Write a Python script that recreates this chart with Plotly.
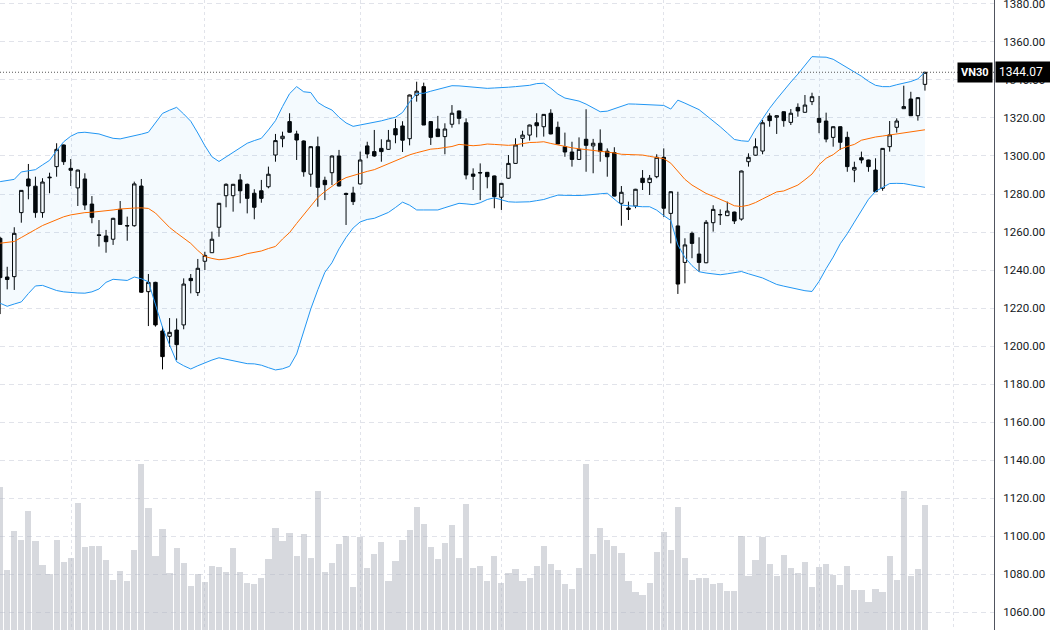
import plotly.graph_objects as go

# ---- data ----
open_ = [1256.7, 1236.3, 1236.5, 1270.2, 1287.9, 1284.1, 1270.2, 1288.5, 1294.4, 1305.8,
         1293.5, 1283.2, 1287.9, 1274.7, 1258.5, 1257.9, 1256.2, 1271.9, 1263.4, 1263.3,
         1284.2, 1228.6, 1233.5, 1207.9, 1205.1, 1208.4, 1211.1, 1235.6, 1228.1, 1244.6,
         1249.1, 1262.5, 1279.1, 1279.1, 1287.4, 1285.1, 1280.4, 1281.7, 1283.8, 1300.5,
         1309.1, 1318.1, 1311.6, 1307.9, 1290.4, 1304.9, 1287.2, 1291.2, 1300.0, 1280.3,
         1280.5, 1285.3, 1305.3, 1302.3, 1304.0, 1303.5, 1314.4, 1315.8, 1309.1, 1332.0,
         1336.5, 1318.1, 1314.2, 1310.2, 1316.7, 1323.7, 1317.5, 1290.5, 1291.3, 1291.4,
         1289.5, 1278.3, 1288.3, 1296.1, 1309.3, 1311.0, 1317.5, 1315.4, 1322.5, 1315.1,
         1304.9, 1302.1, 1298.2, 1308.8, 1305.3, 1306.7, 1302.5, 1301.8, 1275.1, 1272.6,
         1273.7, 1288.3, 1286.0, 1289.1, 1299.3, 1269.8, 1263.2, 1244.0, 1259.3, 1248.4,
         1243.8, 1264.9, 1269.0, 1268.6, 1270.5, 1266.8, 1297.0, 1300.4, 1302.6, 1321.1,
         1320.4, 1323.3, 1317.7, 1325.6, 1323.0, 1328.6, 1319.8, 1318.4, 1309.8, 1315.4,
         1309.8, 1292.6, 1299.1, 1297.9, 1292.6, 1283.0, 1304.9, 1315.1, 1324.9, 1330.0,
         1321.2, 1337.7]
high = [1257.5, 1241.7, 1262.5, 1282.0, 1295.8, 1289.1, 1288.3, 1291.2, 1306.7, 1306.0,
        1298.4, 1292.8, 1290.9, 1278.9, 1266.3, 1261.1, 1267.5, 1276.3, 1268.1, 1286.5,
        1287.9, 1237.9, 1233.8, 1210.2, 1214.7, 1214.5, 1235.6, 1237.9, 1245.8, 1249.6,
        1260.2, 1275.3, 1285.6, 1285.3, 1290.5, 1285.5, 1282.5, 1287.4, 1294.4, 1311.6,
        1312.8, 1322.5, 1313.3, 1308.2, 1305.2, 1310.2, 1289.1, 1300.3, 1303.2, 1280.7,
        1283.8, 1302.3, 1307.5, 1313.7, 1308.8, 1313.7, 1319.5, 1318.3, 1332.3, 1339.1,
        1338.6, 1318.4, 1321.1, 1317.2, 1326.8, 1323.9, 1319.8, 1293.5, 1296.1, 1291.6,
        1289.7, 1285.8, 1300.5, 1309.3, 1313.3, 1316.5, 1322.5, 1322.1, 1324.6, 1318.1,
        1312.3, 1307.5, 1309.8, 1324.6, 1309.0, 1314.0, 1304.0, 1304.6, 1284.2, 1276.0,
        1282.7, 1292.6, 1290.0, 1300.9, 1304.0, 1281.4, 1281.2, 1256.7, 1260.2, 1257.2,
        1266.3, 1274.1, 1271.9, 1276.0, 1270.7, 1292.3, 1301.4, 1309.3, 1318.9, 1322.5,
        1321.4, 1323.5, 1324.7, 1327.7, 1332.1, 1333.3, 1331.6, 1322.8, 1315.6, 1315.6,
        1312.8, 1297.0, 1302.3, 1298.1, 1298.8, 1304.2, 1318.4, 1319.8, 1337.0, 1333.8,
        1330.9, 1344.2]
low = [1216.8, 1229.8, 1229.5, 1264.9, 1277.2, 1267.5, 1267.5, 1280.4, 1289.1, 1295.3,
       1284.2, 1273.7, 1271.6, 1264.6, 1252.3, 1249.1, 1253.2, 1264.0, 1255.4, 1262.8,
       1228.0, 1210.5, 1210.2, 1187.7, 1199.6, 1192.6, 1208.8, 1227.7, 1226.3, 1240.0,
       1249.0, 1257.5, 1273.0, 1270.7, 1275.1, 1269.8, 1266.7, 1275.4, 1283.0, 1297.0,
       1304.6, 1312.3, 1297.9, 1289.1, 1283.8, 1273.3, 1276.8, 1284.7, 1284.0, 1263.7,
       1274.2, 1285.0, 1298.8, 1299.6, 1297.0, 1303.2, 1306.7, 1302.1, 1305.6, 1328.6,
       1316.3, 1305.8, 1310.2, 1300.9, 1314.9, 1316.7, 1287.7, 1282.1, 1276.8, 1283.0,
       1272.5, 1271.6, 1288.0, 1296.0, 1304.9, 1308.1, 1309.8, 1310.2, 1311.4, 1306.3,
       1299.6, 1294.4, 1298.0, 1291.7, 1290.9, 1297.0, 1289.1, 1278.7, 1263.3, 1266.3,
       1272.5, 1282.1, 1279.5, 1288.3, 1268.0, 1254.0, 1227.4, 1233.0, 1246.2, 1239.1,
       1243.6, 1260.2, 1263.7, 1268.4, 1264.2, 1266.0, 1294.4, 1300.2, 1300.9, 1315.4,
       1311.6, 1315.4, 1316.3, 1320.7, 1322.8, 1326.8, 1312.0, 1307.2, 1304.9, 1303.2,
       1291.7, 1286.2, 1296.1, 1291.7, 1281.2, 1281.7, 1302.3, 1312.3, 1324.7, 1321.0,
       1318.6, 1334.4]
close = [1236.0, 1235.0, 1259.3, 1281.9, 1284.2, 1270.2, 1286.3, 1288.8, 1303.5, 1297.0,
         1292.5, 1292.6, 1274.2, 1267.7, 1258.2, 1254.9, 1267.2, 1264.0, 1263.2, 1285.3,
         1228.3, 1233.5, 1211.1, 1194.4, 1207.2, 1200.7, 1232.6, 1234.4, 1240.9, 1247.7,
         1256.2, 1275.1, 1285.1, 1285.1, 1281.7, 1277.7, 1273.0, 1277.7, 1290.4, 1308.1,
         1310.4, 1312.5, 1308.4, 1291.7, 1304.9, 1283.5, 1284.9, 1300.0, 1284.2, 1279.8,
         1276.0, 1297.9, 1301.1, 1300.0, 1302.3, 1308.3, 1311.1, 1308.3, 1332.1, 1334.1,
         1316.3, 1309.8, 1310.2, 1314.2, 1322.5, 1319.8, 1290.0, 1289.3, 1291.1, 1289.1,
         1278.6, 1285.6, 1296.1, 1305.8, 1311.0, 1316.3, 1315.9, 1321.9, 1311.6, 1306.3,
         1302.1, 1298.2, 1303.5, 1305.6, 1306.7, 1302.3, 1299.6, 1278.9, 1280.9, 1271.9,
         1282.5, 1286.0, 1288.3, 1299.3, 1272.5, 1281.2, 1232.6, 1253.2, 1254.0, 1244.0,
         1265.1, 1271.9, 1269.2, 1271.0, 1265.8, 1292.1, 1299.3, 1304.9, 1317.5, 1318.6,
         1321.2, 1318.6, 1322.5, 1323.7, 1326.8, 1331.2, 1317.7, 1308.9, 1315.4, 1307.2,
         1294.4, 1294.0, 1297.9, 1294.4, 1281.2, 1304.0, 1311.1, 1318.4, 1326.0, 1321.2,
         1330.7, 1344.07]
volume = [143, 60, 99, 90, 119, 89, 65, 56, 90, 68, 72, 127, 83, 84, 84, 70, 50, 59, 49, 80,
          166, 122, 74, 101, 57, 82, 67, 44, 56, 48, 64, 63, 58, 82, 58, 47, 46, 52, 71, 102,
          89, 97, 74, 96, 72, 139, 58, 67, 86, 94, 43, 93, 62, 76, 88, 49, 69, 90, 100, 123,
          106, 83, 71, 87, 105, 72, 126, 62, 64, 49, 74, 47, 57, 61, 49, 52, 64, 84, 66, 60,
          46, 41, 62, 166, 76, 102, 90, 84, 77, 49, 38, 35, 47, 78, 98, 80, 123, 72, 50, 52,
          52, 46, 47, 39, 39, 94, 54, 70, 93, 66, 54, 75, 62, 57, 68, 43, 63, 66, 55, 45,
          64, 40, 40, 28, 41, 38, 74, 50, 139, 54, 61, 125]
bb_upper = [1286.5, 1287.1, 1287.7, 1291.6, 1292.1, 1292.8, 1295.3, 1297.7, 1302.8, 1307.5,
            1310.4, 1312.2, 1312.5, 1312.2, 1311.6, 1310.4, 1309.3, 1309.0, 1309.7, 1310.7,
            1311.5, 1312.5, 1317.5, 1322.4, 1324.1, 1325.6, 1322.1, 1318.3, 1312.1, 1305.4,
            1299.6, 1297.1, 1299.5, 1301.9, 1304.3, 1306.7, 1308.1, 1309.3, 1313.7, 1318.6,
            1326.0, 1332.8, 1336.5, 1333.8, 1333.4, 1328.2, 1325.9, 1324.2, 1320.4, 1317.4,
            1315.6, 1316.3, 1317.0, 1317.5, 1318.5, 1319.5, 1320.4, 1322.9, 1328.4, 1333.0,
            1333.0, 1334.1, 1335.2, 1336.2, 1337.0, 1336.9, 1336.6, 1336.3, 1335.9, 1335.6,
            1335.8, 1335.9, 1336.2, 1336.5, 1336.8, 1337.2, 1338.1, 1338.3, 1335.7, 1332.6,
            1330.5, 1329.7, 1328.9, 1327.3, 1325.3, 1323.3, 1323.6, 1324.8, 1326.1, 1327.4,
            1327.3, 1327.2, 1327.0, 1326.9, 1326.6, 1324.7, 1329.4, 1327.8, 1326.2, 1324.4,
            1321.4, 1318.5, 1315.4, 1312.1, 1308.7, 1308.0, 1307.7, 1314.1, 1319.9, 1325.1,
            1329.9, 1334.6, 1338.9, 1343.1, 1347.9, 1352.3, 1352.1, 1352.0, 1350.9, 1348.7,
            1346.6, 1344.5, 1342.0, 1339.3, 1337.2, 1336.5, 1336.5, 1337.5, 1338.3, 1339.2,
            1340.6, 1344.2]
bb_mid = [1254.1, 1254.5, 1255.0, 1257.1, 1259.4, 1261.3, 1263.4, 1265.0, 1266.5, 1268.0,
          1269.0, 1269.7, 1270.2, 1270.4, 1270.7, 1271.1, 1271.6, 1272.1, 1272.5, 1272.6,
          1272.7, 1272.4, 1270.0, 1266.1, 1262.4, 1259.5, 1256.6, 1254.0, 1250.3, 1247.1,
          1246.1, 1245.4, 1245.8, 1246.5, 1247.4, 1248.6, 1249.4, 1250.0, 1251.3, 1252.4,
          1256.3, 1259.7, 1264.5, 1269.2, 1273.4, 1278.2, 1281.3, 1283.8, 1286.7, 1288.6,
          1289.7, 1291.1, 1291.9, 1292.8, 1294.4, 1296.1, 1297.4, 1299.0, 1300.6, 1301.7,
          1302.6, 1303.6, 1303.9, 1304.3, 1305.0, 1306.1, 1305.8, 1305.4, 1305.7, 1306.3,
          1306.1, 1305.8, 1305.6, 1305.9, 1306.7, 1307.1, 1307.2, 1307.5, 1306.6, 1305.7,
          1304.9, 1304.3, 1303.8, 1303.4, 1302.9, 1302.5, 1302.2, 1301.6, 1300.9, 1300.8,
          1300.6, 1300.5, 1299.8, 1299.2, 1298.6, 1296.2, 1291.7, 1287.7, 1284.7, 1282.4,
          1280.3, 1278.8, 1277.3, 1275.6, 1273.8, 1273.4, 1274.1, 1275.5, 1277.4, 1279.4,
          1281.1, 1281.6, 1283.2, 1284.7, 1287.5, 1290.5, 1295.4, 1298.8, 1300.7, 1303.6,
          1305.0, 1306.1, 1308.3, 1309.3, 1310.0, 1310.5, 1311.1, 1311.6, 1312.1, 1312.7,
          1313.3, 1313.8]
bb_lower = [1222.5, 1220.9, 1222.1, 1223.2, 1227.6, 1231.6, 1231.9, 1230.4, 1229.2, 1228.5,
            1228.1, 1227.9, 1227.8, 1228.5, 1230.0, 1233.5, 1235.1, 1234.7, 1234.5, 1236.3,
            1235.4, 1233.8, 1221.6, 1209.8, 1200.6, 1191.7, 1189.6, 1187.9, 1189.6, 1191.2,
            1192.6, 1193.8, 1193.1, 1192.3, 1191.3, 1190.7, 1190.6, 1189.9, 1188.6, 1187.4,
            1188.0, 1189.3, 1195.8, 1207.2, 1219.5, 1229.6, 1238.8, 1243.8, 1251.1, 1257.1,
            1262.1, 1265.3, 1266.6, 1267.2, 1268.6, 1270.3, 1272.9, 1275.7, 1274.1, 1271.6,
            1271.6, 1271.6, 1271.6, 1272.8, 1274.0, 1275.1, 1274.8, 1274.4, 1275.4, 1277.1,
            1278.0, 1277.1, 1275.9, 1275.7, 1275.8, 1275.9, 1276.5, 1277.1, 1278.3, 1279.4,
            1279.3, 1279.1, 1279.2, 1279.4, 1279.6, 1280.1, 1280.4, 1277.4, 1274.2, 1273.8,
            1273.5, 1273.3, 1273.3, 1271.5, 1268.6, 1266.1, 1253.2, 1246.6, 1242.3, 1239.1,
            1238.4, 1238.0, 1237.5, 1238.0, 1238.7, 1239.2, 1238.0, 1237.0, 1235.8, 1234.1,
            1232.4, 1231.5, 1230.6, 1229.8, 1229.1, 1228.7, 1234.0, 1240.7, 1246.8, 1253.8,
            1259.1, 1265.2, 1271.4, 1277.2, 1281.4, 1283.4, 1285.5, 1285.6, 1285.5, 1284.8,
            1284.0, 1283.5]
month_starts = [10.15, 29, 51, 71, 94, 116, 135]
price_ticks = list(range(1060, 1381, 20))
symbol = "VN30"

x = list(range(len(close)))
last_price = close[-1]

FONT = "Roboto, 'DejaVu Sans', sans-serif"
GRID = "#e1e3ea"

fig = go.Figure()

# volume (secondary axis)
fig.add_trace(go.Bar(
    x=x, y=volume, yaxis="y2", width=0.88,
    marker=dict(color="rgba(176,179,189,0.5)", line=dict(width=0)),
    hoverinfo="skip", showlegend=False,
))

# Bollinger bands
fig.add_trace(go.Scatter(
    x=x, y=bb_upper, mode="lines", line=dict(color="#2196f3", width=1),
    hoverinfo="skip", showlegend=False,
))
fig.add_trace(go.Scatter(
    x=x, y=bb_lower, mode="lines", line=dict(color="#2196f3", width=1),
    fill="tonexty", fillcolor="rgba(33,150,243,0.05)",
    hoverinfo="skip", showlegend=False,
))
fig.add_trace(go.Scatter(
    x=x, y=bb_mid, mode="lines", line=dict(color="#ff6d00", width=1),
    hoverinfo="skip", showlegend=False,
))

# candles
fig.add_trace(go.Candlestick(
    x=x, open=open_, high=high, low=low, close=close,
    increasing=dict(line=dict(color="#000000", width=1), fillcolor="#ffffff"),
    decreasing=dict(line=dict(color="#000000", width=1), fillcolor="#000000"),
    whiskerwidth=0, showlegend=False,
))

# last price line
fig.add_shape(type="line", xref="paper", x0=0, x1=1, yref="y",
              y0=last_price, y1=last_price,
              line=dict(color="#555555", width=1, dash="1px,2px"), layer="above")

fig.add_annotation(xref="paper", x=1.0, xanchor="left", yref="y", y=last_price,
                   yanchor="middle", text=f"{last_price:.2f}", showarrow=False,
                   bgcolor="#000000", font=dict(color="#ffffff", size=12, family=FONT),
                   borderpad=3, width=50, align="left", xshift=1)
fig.add_annotation(xref="paper", x=1.0, xanchor="right", yref="y", y=last_price,
                   yanchor="middle", text=f"<b>{symbol}</b>", showarrow=False,
                   bgcolor="#000000", font=dict(color="#ffffff", size=11, family=FONT),
                   borderpad=3, xshift=-1)

fig.update_layout(
    width=1050, height=630,
    margin=dict(l=0, r=56, t=0, b=0, autoexpand=False),
    paper_bgcolor="#ffffff", plot_bgcolor="#ffffff",
    font=dict(family=FONT, size=11, color="#131722"),
    showlegend=False, bargap=0,
    xaxis=dict(
        range=[-0.02, 140.78], rangeslider=dict(visible=False),
        tickvals=month_starts, showticklabels=False, ticks="",
        showgrid=True, gridcolor=GRID, griddash="dot", gridwidth=1,
        zeroline=False, showline=False, fixedrange=True, automargin=False,
    ),
    yaxis=dict(
        range=[1050.53, 1382.1], side="right",
        tickvals=price_ticks, tickformat=".2f",
        showgrid=True, gridcolor=GRID, griddash="5px,4px", gridwidth=1,
        showline=True, linecolor="#50535e", linewidth=1,
        ticks="", ticklabelstandoff=6, zeroline=False,
        ticklabeloverflow="allow", automargin=False,
        tickfont=dict(size=11.5, color="#131722"),
    ),
    yaxis2=dict(
        overlaying="y", range=[0, 630], visible=False, fixedrange=True,
    ),
)

fig.write_html("out.html")
